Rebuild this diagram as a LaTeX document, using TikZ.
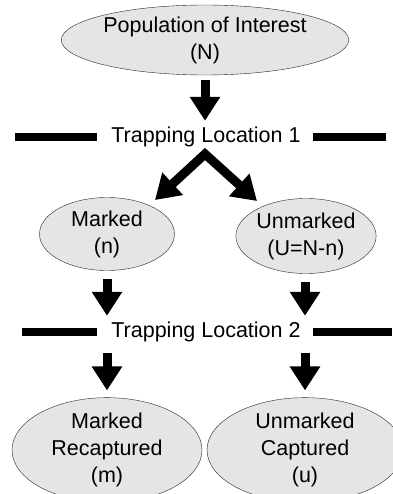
\documentclass[tikz,border=0pt]{standalone}
\usepackage{fontspec}
\setmainfont{Liberation Sans}
\usetikzlibrary{shapes.geometric,arrows.meta}
\tikzset{
	blob/.style={ellipse,draw=black!85,fill=black!10,inner sep=0pt,align=center,font=\fontsize{21.5}{27}\selectfont},
	site/.style={inner sep=0pt,font=\fontsize{21.5}{24}\selectfont},
	flow/.style={line width=9pt,-{Triangle[width=29pt,length=24pt]}},
	bar/.style={line width=8pt}
}
\begin{document}
\begin{tikzpicture}[x=1pt,y=-1pt]
		\useasboundingbox (0,0) rectangle (392,494);
		% ellipses
		\node[blob,minimum width=250pt,minimum height=70pt] (pop) at (205,40) {Population of Interest\\(N)};
		\node[blob,minimum width=135pt,minimum height=73pt] (marked) at (107,234) {Marked\\(n)};
		\node[blob,minimum width=140pt,minimum height=75pt] (unmarked) at (306,236) {Unmarked\\(U=N-n)};
		\node[blob,minimum width=190pt,minimum height=100pt] (recap) at (107,450) {Marked\\Recaptured\\(m)};
		\node[blob,minimum width=196pt,minimum height=100pt] (capt) at (305,450) {Unmarked\\Captured\\(u)};
		% trapping lines
		\node[site] (trap1) at (206,137) {Trapping Location 1};
		\node[site] (trap2) at (206,332) {Trapping Location 2};
		\draw[bar] (15,137) -- (97,137) (313,137) -- (386,137);
		\draw[bar] (22,332) -- (97,332) (313,332) -- (392,332);
		% arrows
		\coordinate (split) at (205,154);
		\coordinate (tipL) at (155,200);
		\coordinate (tipR) at (257,201);
		\draw[flow,shorten <=5pt,shorten >=6pt] (pop.south) -- (pop.south |- trap1.north);
		\draw[line width=9pt,line join=miter,{Triangle[width=29pt,length=24pt]}-{Triangle[width=29pt,length=24pt]}] (tipL) -- (split) -- (tipR);
		\draw[flow,shorten <=8pt,shorten >=6pt] (marked.south) -- (marked.south |- trap2.north);
		\draw[flow,shorten <=8pt,shorten >=6pt] (unmarked.south -| capt.north) -- (capt.north |- trap2.north);
		\draw[flow,shorten <=11pt,shorten >=7pt] (recap.north |- trap2.south) -- (recap.north);
		\draw[flow,shorten <=11pt,shorten >=7pt] (capt.north |- trap2.south) -- (capt.north);
\end{tikzpicture}
\end{document}
